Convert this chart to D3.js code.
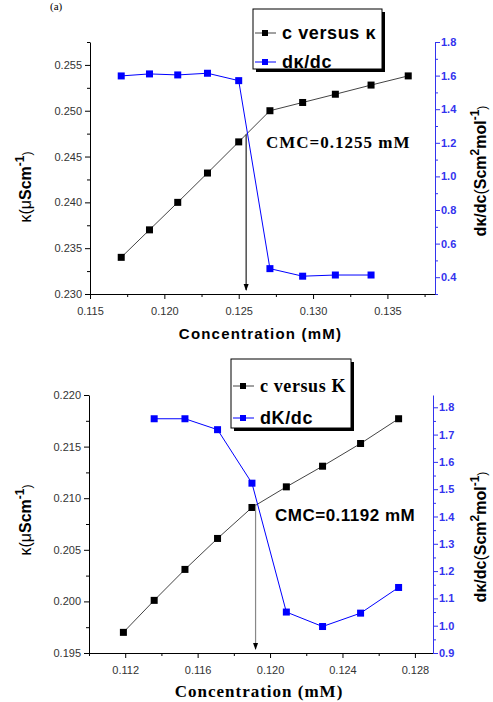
<!DOCTYPE html>
<html>
<head>
<meta charset="utf-8">
<script src="https://cdn.jsdelivr.net/npm/d3@7"></script>
<style>
  body { margin: 0; background: #fff; }
  svg { display: block; }
</style>
</head>
<body>
<svg id="svg" width="493" height="702"></svg>
<script>
// panel (a) data
const concA = [0.1171, 0.1190, 0.1209, 0.1229, 0.1250, 0.1271, 0.1293, 0.1315, 0.1339, 0.1364];
const kappaA = [0.2340, 0.2370, 0.2400, 0.2432, 0.2466, 0.2500, 0.2509, 0.2518, 0.2528, 0.2538];
const slopeConcA = [0.1171, 0.1190, 0.1209, 0.1229, 0.1250, 0.1271, 0.1293, 0.1315, 0.1339];
const slopeA = [1.598, 1.610, 1.604, 1.614, 1.570, 0.451, 0.406, 0.413, 0.413];
const cmcA = 0.1255;
const xTicksA = [0.115, 0.120, 0.125, 0.130, 0.135];
const yTicksA = [0.230, 0.235, 0.240, 0.245, 0.250, 0.255];
const rTicksA = [0.4, 0.6, 0.8, 1.0, 1.2, 1.4, 1.6, 1.8];

// panel (b) data
const concB = [0.1119, 0.1136, 0.1153, 0.1171, 0.1190, 0.1209, 0.1229, 0.1250, 0.1271];
const kappaB = [0.1970, 0.2001, 0.2031, 0.2061, 0.2091, 0.2111, 0.2131, 0.2153, 0.2177];
const slopeConcB = [0.1136, 0.1153, 0.1171, 0.1190, 0.1209, 0.1229, 0.1250, 0.1271];
const slopeB = [1.758, 1.758, 1.718, 1.522, 1.050, 0.997, 1.046, 1.140];
const cmcB = 0.1192;
const xTicksB = [0.112, 0.116, 0.120, 0.124, 0.128];
const yTicksB = [0.195, 0.200, 0.205, 0.210, 0.215, 0.220];
const rTicksB = [0.9, 1.0, 1.1, 1.2, 1.3, 1.4, 1.5, 1.6, 1.7, 1.8];

const svg = d3.select("#svg");
const BLUE = "#0000ff";
const AXBLUE = "#3333ee";
const SANS = "Liberation Sans, Arial, sans-serif";
const SERIF = "Liberation Serif, Times New Roman, serif";

function sup(t, s) {
  t.append("tspan").attr("baseline-shift", "super").attr("font-size", "0.75em").text(s);
}

function panel(p) {
  const x = d3.scaleLinear().domain(p.xDomain).range([p.left, p.right]);
  const y = d3.scaleLinear().domain(p.yDomain).range([p.bottom, p.top]);
  const yr = d3.scaleLinear().domain(p.rDomain).range([p.bottom, p.top]);
  const g = svg.append("g");

  // minor ticks
  const minor = (sel, ticks, sz) => sel.call(ticks.tickSize(sz).tickFormat(""))
    .call(s => s.select(".domain").remove());
  g.append("g").attr("transform", `translate(0,${p.bottom})`)
    .call(s => minor(s, d3.axisBottom(x).tickValues(p.xMinor), 3));
  g.append("g").attr("transform", `translate(${p.left},0)`)
    .call(s => minor(s, d3.axisLeft(y).tickValues(p.yMinor), 3));
  g.append("g").attr("transform", `translate(${p.right},0)`)
    .call(s => minor(s, d3.axisRight(yr).tickValues(p.rMinor), 3))
    .selectAll("line").attr("stroke", AXBLUE);

  // major axes
  const xa = g.append("g").attr("transform", `translate(0,${p.bottom})`)
    .call(d3.axisBottom(x).tickValues(p.xTicks).tickSize(5).tickSizeOuter(0).tickFormat(d3.format(".3f")));
  const ya = g.append("g").attr("transform", `translate(${p.left},0)`)
    .call(d3.axisLeft(y).tickValues(p.yTicks).tickSize(5).tickSizeOuter(0).tickFormat(d3.format(".3f")));
  const ra = g.append("g").attr("transform", `translate(${p.right},0)`)
    .call(d3.axisRight(yr).tickValues(p.rTicks).tickSize(5).tickSizeOuter(0).tickFormat(d3.format(".1f")));
  [xa, ya].forEach(a => {
    a.selectAll("text").attr("font-family", SANS).attr("font-size", 11).attr("fill", "#333");
  });
  xa.selectAll("text").attr("dy", "1.2em");
  ra.selectAll("text").attr("font-family", SANS)
    .attr("font-size", 11).attr("fill", AXBLUE).attr("font-weight", "bold").attr("x", 6);
  ra.select(".domain").attr("stroke", AXBLUE);
  ra.selectAll("line").attr("stroke", AXBLUE);

  // lines
  const kLine = d3.line().x(d => x(d[0])).y(d => y(d[1]));
  const sLine = d3.line().x(d => x(d[0])).y(d => yr(d[1]));
  const kData = p.conc.map((c, i) => [c, p.kappa[i]]);
  const sData = p.slopeConc.map((c, i) => [c, p.slope[i]]);
  g.append("path").attr("d", kLine(kData)).attr("fill", "none").attr("stroke", "#444").attr("stroke-width", 1);
  g.append("path").attr("d", sLine(sData)).attr("fill", "none").attr("stroke", BLUE).attr("stroke-width", 1);
  const ms = 7;
  g.selectAll(".k").data(kData).join("rect")
    .attr("x", d => x(d[0]) - ms / 2).attr("y", d => y(d[1]) - ms / 2)
    .attr("width", ms).attr("height", ms).attr("fill", "#000");
  g.selectAll(".s").data(sData).join("rect")
    .attr("x", d => x(d[0]) - ms / 2).attr("y", d => yr(d[1]) - ms / 2)
    .attr("width", ms).attr("height", ms).attr("fill", BLUE);

  // CMC arrow
  const i = d3.bisectLeft(p.conc, p.cmc);
  const t = (p.cmc - p.conc[i - 1]) / (p.conc[i] - p.conc[i - 1]);
  const kc = p.kappa[i - 1] + t * (p.kappa[i] - p.kappa[i - 1]);
  const ax = x(p.cmc);
  g.append("line").attr("x1", ax).attr("x2", ax).attr("y1", y(kc)).attr("y2", p.bottom - 4)
    .attr("stroke", p.arrowColor).attr("stroke-width", 1.2);
  g.append("path").attr("d", `M${ax - 2.5},${p.bottom - 10}L${ax + 2.5},${p.bottom - 10}L${ax},${p.bottom - 3}Z`)
    .attr("fill", "#000");

  g.append("text").attr("x", p.cmcPos[0]).attr("y", p.cmcPos[1])
    .attr("font-family", p.cmcFont).attr("font-weight", "bold").attr("font-size", p.cmcSize)
    .attr("letter-spacing", p.cmcSpacing)
    .text(`CMC=${p.cmc} mM`);

  // legend
  const L = p.legend;
  g.append("rect").attr("x", L.x + 3).attr("y", L.y + 3).attr("width", L.w).attr("height", L.h).attr("fill", "#000");
  g.append("rect").attr("x", L.x).attr("y", L.y).attr("width", L.w).attr("height", L.h)
    .attr("fill", "#fff").attr("stroke", "#000").attr("stroke-width", 1);
  [[L.row1, "#444", "#000", L.label1, L.font1], [L.row2, BLUE, BLUE, L.label2, L.font2]].forEach(r => {
    g.append("line").attr("x1", L.x + 2).attr("x2", L.x + 23).attr("y1", r[0]).attr("y2", r[0]).attr("stroke", r[1]);
    g.append("rect").attr("x", L.x + 9).attr("y", r[0] - 3).attr("width", 6).attr("height", 6).attr("fill", r[2]);
    g.append("text").attr("x", L.x + 29).attr("y", r[0] + 6).attr("font-family", r[4])
      .attr("font-weight", "bold").attr("font-size", L.size).attr("letter-spacing", L.spacing).text(r[3]);
  });

  // axis titles
  g.append("text").attr("x", (p.left + p.right) / 2 - 2).attr("y", p.xTitleY).attr("text-anchor", "middle")
    .attr("font-family", p.xTitleFont).attr("font-weight", "bold").attr("font-size", p.xTitleSize)
    .attr("letter-spacing", p.xTitleSpacing).text("Concentration (mM)");

  const lt = g.append("text").attr("transform", `translate(31,${p.lTitleY}) rotate(-90)`)
    .attr("text-anchor", "middle").attr("font-family", SANS)
    .attr("font-weight", "bold").attr("font-size", 16);
  lt.append("tspan").attr("font-weight", "normal").text("κ(μ");
  lt.append("tspan").text("Scm");
  sup(lt, "-1");
  lt.append("tspan").attr("font-weight", "normal").attr("font-size", 12).text(")");

  const rt = g.append("text").attr("transform", `translate(486,${p.rTitleY}) rotate(-90)`)
    .attr("text-anchor", "middle").attr("font-family", SANS)
    .attr("font-weight", "bold").attr("font-size", 16);
  rt.append("tspan").text("dκ/dc");
  rt.append("tspan").attr("font-weight", "normal").text("(");
  rt.append("tspan").text("Scm");
  sup(rt, "2");
  rt.append("tspan").attr("baseline-shift", "0").text("mol");
  sup(rt, "-1");
  rt.append("tspan").attr("font-weight", "normal").attr("font-size", 12).text(")");
}

const range = (a, b, s) => d3.range(Math.round((b - a) / s) + 1).map(k => +(a + k * s).toFixed(5));

panel({
  conc: concA, kappa: kappaA, slopeConc: slopeConcA, slope: slopeA, cmc: cmcA,
  xDomain: [0.115, 0.1382], yDomain: [0.230, 0.2575], rDomain: [0.3, 1.8],
  left: 90, right: 435, top: 42, bottom: 294,
  xTicks: xTicksA, yTicks: yTicksA, rTicks: rTicksA,
  xMinor: range(0.1175, 0.1375, 0.005), yMinor: range(0.2325, 0.2575, 0.005), rMinor: range(0.3, 1.7, 0.2),
  arrowColor: "#222",
  cmcPos: [266, 148], cmcFont: SERIF, cmcSize: 17, cmcSpacing: 1,
  legend: { x: 253, y: 9, w: 129, h: 60, row1: 33, row2: 62, size: 18, spacing: 0.6,
    label1: "c versus κ", font1: SANS, label2: "dκ/dc", font2: SANS },
  xTitleY: 339, xTitleFont: SANS, xTitleSize: 15, xTitleSpacing: 1.2,
  lTitleY: 187, rTitleY: 171
});

panel({
  conc: concB, kappa: kappaB, slopeConc: slopeConcB, slope: slopeB, cmc: cmcB,
  xDomain: [0.110, 0.129], yDomain: [0.195, 0.220], rDomain: [0.9, 1.845],
  left: 89, right: 433, top: 395, bottom: 653,
  xTicks: xTicksB, yTicks: yTicksB, rTicks: rTicksB,
  xMinor: range(0.110, 0.126, 0.004), yMinor: range(0.1975, 0.2175, 0.005), rMinor: range(0.95, 1.75, 0.1),
  arrowColor: "#888",
  cmcPos: [275, 521], cmcFont: SANS, cmcSize: 17, cmcSpacing: 0.5,
  legend: { x: 231, y: 359, w: 120, h: 69, row1: 386, row2: 418, size: 18, spacing: 0.6,
    label1: "c versus K", font1: SERIF, label2: "dK/dc", font2: SANS },
  xTitleY: 697, xTitleFont: SERIF, xTitleSize: 17, xTitleSpacing: 1,
  lTitleY: 520, rTitleY: 537
});

// panel label
svg.append("text").attr("x", 50).attr("y", 10).attr("font-family", SERIF)
  .attr("font-size", 11).text("(a)");
</script>
</body>
</html>
